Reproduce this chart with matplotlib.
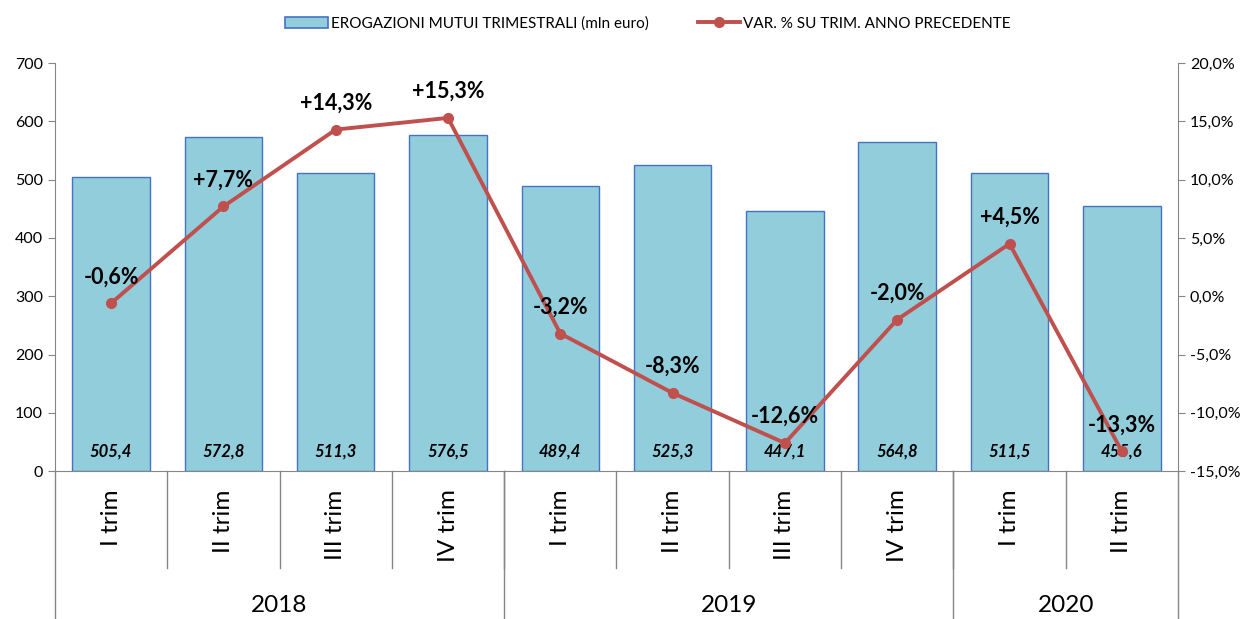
import numpy as np
import matplotlib.pyplot as plt
from matplotlib.lines import Line2D
from matplotlib.patches import Patch
import matplotlib.transforms as mtransforms

plt.rcParams['font.family'] = ['Lato', 'DejaVu Sans']

# data
quarters = ['I trim', 'II trim', 'III trim', 'IV trim',
            'I trim', 'II trim', 'III trim', 'IV trim',
            'I trim', 'II trim']
years = ['2018', '2019', '2020']
year_sizes = [4, 4, 2]
erogazioni = [505.4, 572.8, 511.3, 576.5, 489.4, 525.3, 447.1, 564.8, 511.5, 455.6]
var_pct = [-0.6, 7.7, 14.3, 15.3, -3.2, -8.3, -12.6, -2.0, 4.5, -13.3]

bar_col = '#92CDDC'
bar_edge = '#4472C4'
line_col = '#C0504D'
axis_col = '#868686'

fig = plt.figure(figsize=(12.46, 6.19), dpi=100)
ax = fig.add_axes([0.0441, 0.239, 0.9013, 0.659])
ax2 = ax.twinx()

x = np.arange(len(erogazioni))
ax.bar(x, erogazioni, width=0.69, color=bar_col, edgecolor=bar_edge, linewidth=1.0, zorder=2)
ax.set_xlim(-0.5, len(x) - 0.5)
ax.set_ylim(0, 700)
ax.set_yticks(range(0, 701, 100))
ax.set_xticks([])

for xi, v in zip(x, erogazioni):
    ax.text(xi, 33, f'{v:.1f}'.replace('.', ','), ha='center', va='center',
            fontsize=12, fontweight='bold', fontstyle='italic', zorder=5)

ax2.plot(x, var_pct, color=line_col, linewidth=2.8, marker='o', markersize=7, zorder=4)
ax2.set_ylim(-15, 20)
ax2.set_yticks(range(-15, 21, 5))
ax2.set_yticklabels([f'{t:.1f}%'.replace('.', ',') for t in range(-15, 21, 5)])
for xi, v in zip(x, var_pct):
    s = f'{v:+.1f}%'.replace('.', ',')
    ax2.annotate(s, (xi, v), xytext=(0, 19), textcoords='offset points',
                 ha='center', va='center', fontsize=15.5, fontweight='bold', zorder=6)

for a in (ax, ax2):
    a.spines['top'].set_visible(False)
    for sp in ('left', 'right', 'bottom'):
        a.spines[sp].set_color(axis_col)
    a.tick_params(axis='y', colors=axis_col, labelcolor='black', labelsize=11.5, length=5)
ax2.spines['left'].set_visible(False)
ax.spines['right'].set_visible(False)
ax2.spines['bottom'].set_visible(False)

# category axis below
trans = mtransforms.blended_transform_factory(ax.transData, ax.transAxes)
for b in range(1, len(x)):
    ax.add_line(Line2D([b - 0.5, b - 0.5], [0, -0.238], transform=trans,
                       color=axis_col, linewidth=1, clip_on=False))
edges = np.concatenate([[0], np.cumsum(year_sizes)]) - 0.5
for e in edges:
    ax.add_line(Line2D([e, e], [0, -0.365], transform=trans,
                       color=axis_col, linewidth=1, clip_on=False))
for xi, q in zip(x, quarters):
    ax.text(xi, -0.045, q, transform=trans, rotation=90, ha='center', va='top',
            fontsize=17.5, clip_on=False)
for i, y in enumerate(years):
    ax.text((edges[i] + edges[i + 1]) / 2, -0.33, y, transform=trans,
            ha='center', va='center', fontsize=17.5, clip_on=False)

handles = [Patch(facecolor=bar_col, edgecolor=bar_edge, linewidth=1.2),
           Line2D([0], [0], color=line_col, linewidth=2.8, marker='o', markersize=7)]
fig.legend(handles, ['EROGAZIONI MUTUI TRIMESTRALI (mln euro)',
                     'VAR. % SU TRIM. ANNO PRECEDENTE'],
           loc='center', bbox_to_anchor=(0.52, 0.962), ncol=2, frameon=False,
           fontsize=11, columnspacing=3.2, handlelength=2.8, handletextpad=0.2)

fig.savefig('out.png', dpi=100)
